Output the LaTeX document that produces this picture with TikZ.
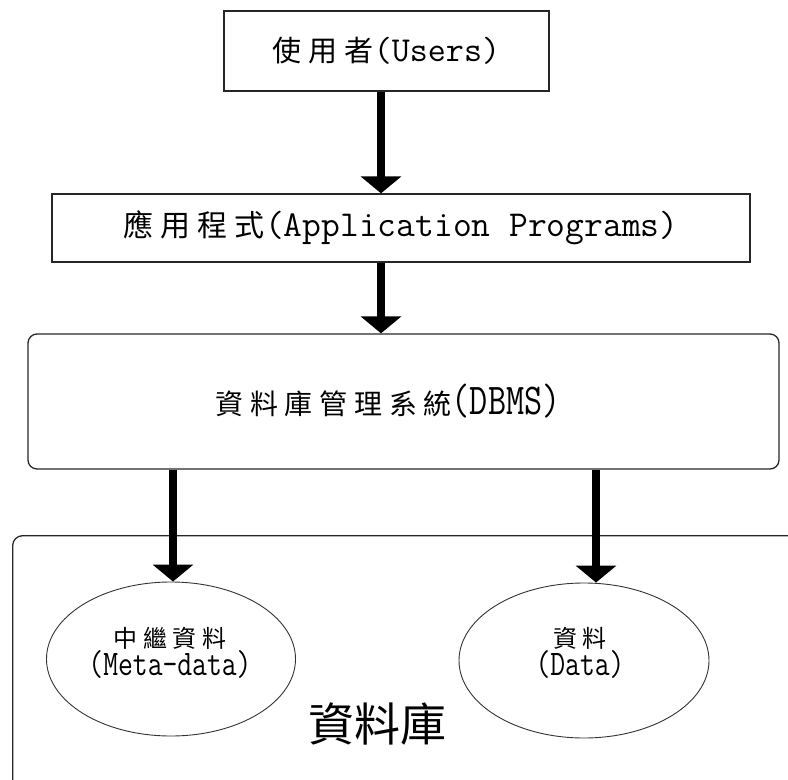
\documentclass[tikz,border=0pt]{standalone}
\usepackage{fontspec}
\usetikzlibrary{arrows.meta,shapes.geometric}
% CJK text with the wide spacing of the labels, and the Latin parts
\newfontfamily\cjk[LetterSpace=24]{Noto Sans CJK TC}
\newfontfamily\cjkplain{Noto Sans CJK TC}
\newfontfamily\latw{Latin Modern Mono}
\newfontfamily\latn[FakeStretch=0.8]{Latin Modern Mono}

\begin{document}
\begin{tikzpicture}[x=1bp,y=-1bp,
  box/.style={draw=black!85, line width=1.3bp, inner sep=0pt},
  rbox/.style={box, rounded corners=9bp},
  dbell/.style={ellipse, draw=black!80, line width=0.9bp, inner sep=0pt},
  arr/.style={line width=7.5bp, -{Triangle[width=40bp,length=17bp]}},
  dblabel/.style={inner sep=0pt, font=\fontsize{28bp}{34bp}\selectfont},
  elllabel/.style={inner sep=0pt, align=center},
]
\useasboundingbox (0,0) rectangle (788,780);
\clip (0,0) rectangle (788,780);

% boxes
\node[box, minimum width=325bp, minimum height=80bp] (users) at (386.5,51)
  {\fontsize{29bp}{34bp}\selectfont\cjk 使用者\latw\fontsize{35bp}{34bp}\selectfont(Users)};
\node[box, minimum width=698bp, minimum height=68bp] (app) at (401,228)
  {\fontsize{30bp}{34bp}\selectfont\cjk 應用程式\latw\fontsize{36.5bp}{34bp}\selectfont(Application Programs)};
\node[rbox, minimum width=751bp, minimum height=135bp] (dbms) at (403.5,401.5) {};
\node[dblabel] (dbmstext) at (388,401)
  {\cjk 資料庫管理系統\latn\fontsize{44bp}{34bp}\selectfont(DBMS)};

% the database area, running off the right and bottom edges
\node[box, rounded corners=10bp, anchor=north west, minimum width=820bp, minimum height=270bp] (db) at (12,535) {};
\node[inner sep=0pt, font=\fontsize{46bp}{50bp}\selectfont\cjkplain] (dbtext) at (377,724) {資料庫};

% stored parts
\node[dbell, minimum width=249bp, minimum height=154bp] (meta) at (171,659) {};
\node[elllabel] (metatext) at (170,653)
  {\cjk\fontsize{24bp}{27bp}\selectfont 中繼資料\\\latn\fontsize{36bp}{27bp}\selectfont(Meta-data)};
\node[dbell, minimum width=250bp, minimum height=155bp] (data) at (584,660.5) {};
\node[elllabel] (datatext) at (580,653)
  {\cjk\fontsize{24bp}{27bp}\selectfont 資料\\\latn\fontsize{36bp}{27bp}\selectfont(Data)};

% connectors
\coordinate (colA) at (381,0);
\coordinate (colB) at (173,0);
\coordinate (colC) at (596,0);
\draw[arr] (users.south -| colA) -- (app.north -| colA);
\draw[arr] (app.south -| colA) -- (dbms.north -| colA);
\draw[arr] (dbms.south -| colB) -- (meta.north -| colB);
\draw[arr] (dbms.south -| colC) -- (data.north -| colC);
\end{tikzpicture}
\end{document}
